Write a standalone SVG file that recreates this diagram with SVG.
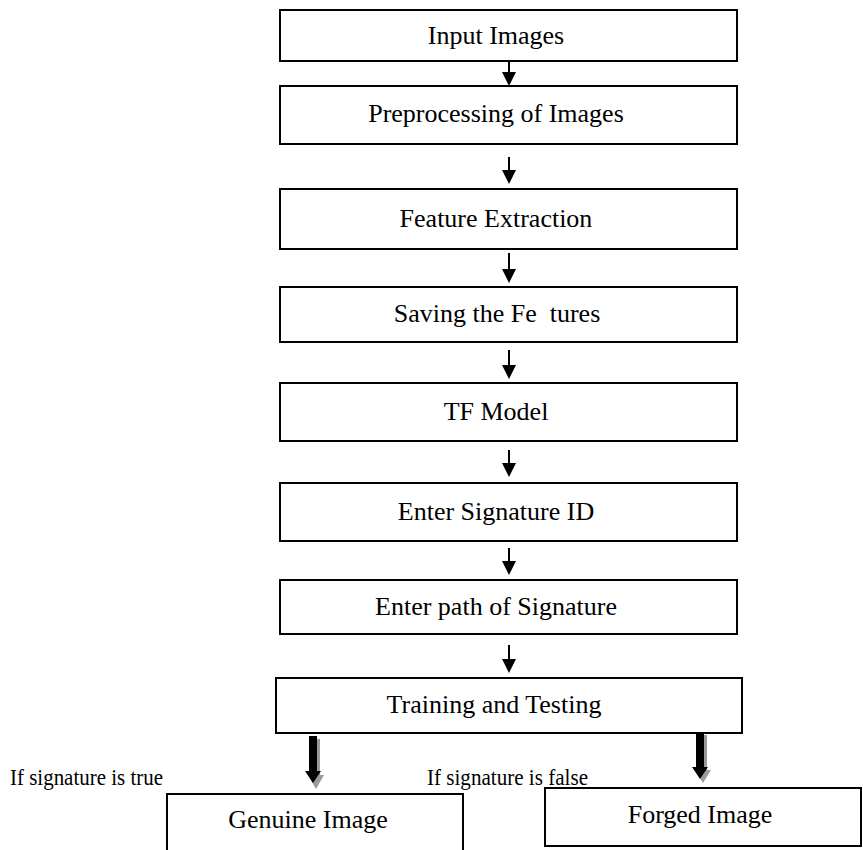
<svg xmlns="http://www.w3.org/2000/svg" width="863" height="850" viewBox="0 0 863 850">
<style>
.box{fill:#fff;stroke:#000;stroke-width:2}
.lbl{font-family:"Liberation Serif","Times New Roman",serif;font-size:26px;fill:#000;text-anchor:middle}
.note{font-family:"Liberation Serif","Times New Roman",serif;font-size:23px;fill:#000}
.ln{stroke:#000;stroke-width:2;fill:none}
.hd{fill:#000}
.sh{fill:#9a9a9a}
</style>
<rect width="863" height="850" fill="#fff"/>
<g id="connectors">
<line class="ln" x1="509" y1="61" x2="509" y2="74"/><polygon class="hd" points="502,72 516,72 509,86"/>
<line class="ln" x1="509" y1="157" x2="509" y2="172"/><polygon class="hd" points="502,170 516,170 509,184"/>
<line class="ln" x1="509" y1="253" x2="509" y2="271"/><polygon class="hd" points="502,269 516,269 509,283"/>
<line class="ln" x1="509" y1="350" x2="509" y2="367"/><polygon class="hd" points="502,365 516,365 509,379"/>
<line class="ln" x1="509" y1="450" x2="509" y2="465"/><polygon class="hd" points="502,463 516,463 509,477"/>
<line class="ln" x1="509" y1="548" x2="509" y2="563"/><polygon class="hd" points="502,561 516,561 509,575"/>
<line class="ln" x1="509" y1="645" x2="509" y2="661"/><polygon class="hd" points="502,659 516,659 509,673"/>
<polygon class="sh" points="312,739 320,739 320,775 324,775 316,789 308,775 312,775"/>
<polygon class="hd" points="309,736 317,736 317,771 321,771 313,783 305,771 309,771"/>
<polygon class="sh" points="699,735 707,735 707,770 711,770 703,783 695,770 699,770"/>
<polygon class="hd" points="696,732 704,732 704,767 708,767 700,779 692,767 696,767"/>
</g>
<g id="n1"><rect class="box" x="280" y="10" width="457" height="51"/><text class="lbl" x="496" y="44">Input Images</text></g>
<g id="n2"><rect class="box" x="280" y="86" width="457" height="58"/><text class="lbl" x="496" y="122">Preprocessing of Images</text></g>
<g id="n3"><rect class="box" x="280" y="189" width="457" height="60"/><text class="lbl" x="496" y="227">Feature Extraction</text></g>
<g id="n4"><rect class="box" x="280" y="287" width="457" height="55"/><text class="lbl" x="497" y="322" xml:space="preserve" style="white-space:pre">Saving the Fe  tures</text></g>
<g id="n5"><rect class="box" x="280" y="383" width="457" height="58"/><text class="lbl" x="496" y="420">TF Model</text></g>
<g id="n6"><rect class="box" x="280" y="483" width="457" height="58"/><text class="lbl" x="496" y="520">Enter Signature ID</text></g>
<g id="n7"><rect class="box" x="280" y="580" width="457" height="54"/><text class="lbl" x="496" y="615">Enter path of Signature</text></g>
<g id="n8"><rect class="box" x="276" y="678" width="466" height="55"/><text class="lbl" x="494" y="713">Training and Testing</text></g>
<g id="n9"><rect class="box" x="167" y="794" width="296" height="70"/><text class="lbl" x="308" y="828">Genuine Image</text></g>
<g id="n10"><rect class="box" x="545" y="788" width="316" height="58"/><text class="lbl" x="700" y="823">Forged Image</text></g>
<g id="labels">
<text class="note" x="10" y="785" textLength="153" lengthAdjust="spacingAndGlyphs">If signature is true</text>
<text class="note" x="427" y="785" textLength="161" lengthAdjust="spacingAndGlyphs">If signature is false</text>
</g>
</svg>
